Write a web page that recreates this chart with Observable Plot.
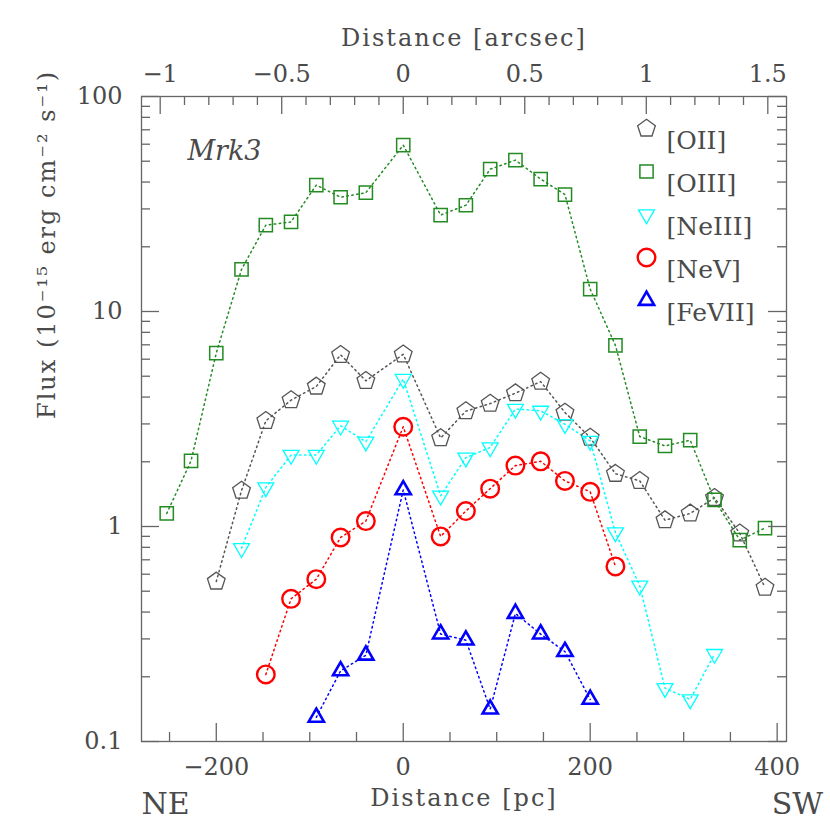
<!DOCTYPE html>
<html>
<head>
<meta charset="utf-8">
<script src="https://cdn.jsdelivr.net/npm/d3@7"></script>
<script src="https://cdn.jsdelivr.net/npm/@observablehq/plot@0.6"></script>
<style>
  body { margin: 0; background: #fff; }
  #chart { width: 830px; height: 830px; }
</style>
</head>
<body>
<div id="chart"></div>
<script>
// ---- data (distance in pc, flux in 1e-15 erg cm^-2 s^-1) ----
const distOII   = [-200, -173, -147, -120, -93, -67, -40, 0, 40, 67, 93, 120, 147, 173, 200, 227, 253, 280, 307, 333, 360, 387];
const fluxOII   = [0.555, 1.47, 3.10, 3.87, 4.48, 6.29, 4.76, 6.32, 2.58, 3.44, 3.73, 4.17, 4.72, 3.39, 2.59, 1.76, 1.63, 1.07, 1.15, 1.36, 0.93, 0.52];

const distOIII  = [-253, -227, -200, -173, -147, -120, -93, -67, -40, 0, 40, 67, 93, 120, 147, 173, 200, 227, 253, 280, 307, 333, 360, 387];
const fluxOIII  = [1.15, 2.02, 6.41, 15.7, 25.2, 26.1, 38.7, 34.0, 35.7, 59.4, 28.1, 31.2, 45.9, 50.6, 41.3, 35.0, 12.7, 6.96, 2.62, 2.37, 2.52, 1.33, 0.865, 0.983];

const distNeIII = [-173, -147, -120, -93, -67, -40, 0, 40, 67, 93, 120, 147, 173, 200, 227, 253, 280, 307, 333];
const fluxNeIII = [0.792, 1.52, 2.15, 2.15, 2.94, 2.48, 4.85, 1.39, 2.09, 2.33, 3.52, 3.45, 2.99, 2.50, 0.938, 0.530, 0.177, 0.157, 0.255];

const distNeV   = [-147, -120, -93, -67, -40, 0, 40, 67, 93, 120, 147, 173, 200, 227];
const fluxNeV   = [0.205, 0.461, 0.569, 0.889, 1.06, 2.91, 0.899, 1.18, 1.50, 1.92, 2.01, 1.63, 1.45, 0.652];

const distFeVII = [-93, -67, -40, 0, 40, 67, 93, 120, 147, 173, 200];
const fluxFeVII = [0.1296, 0.213, 0.252, 1.48, 0.316, 0.296, 0.1415, 0.394, 0.316, 0.262, 0.157];

const seriesNames = ["[OII]", "[OIII]", "[NeIII]", "[NeV]", "[FeVII]"];

// ---- axis ticks ----
const xMajor = [-200, 0, 200, 400];
const xMinor = [-250, -150, -100, -50, 50, 100, 150, 250, 300, 350];
const arcMajor = [-1, -0.5, 0, 0.5, 1, 1.5];
const arcMinor = [-0.9, -0.8, -0.7, -0.6, -0.4, -0.3, -0.2, -0.1, 0.1, 0.2, 0.3, 0.4, 0.6, 0.7, 0.8, 0.9, 1.1, 1.2, 1.3, 1.4];
const PC_PER_ARCSEC = 260;
const yMajor = [0.1, 1, 10, 100];
const yMinor = [0.2,0.3,0.4,0.5,0.6,0.7,0.8,0.9, 2,3,4,5,6,7,8,9, 20,30,40,50,60,70,80,90];

// ---- custom symbols ----
function polySymbol(angles) {
  return {
    draw(ctx, size) {
      const R = Math.sqrt(size / Math.PI);
      angles.forEach((a, k) => {
        const px = R * Math.cos(a), py = R * Math.sin(a);
        if (k) ctx.lineTo(px, py); else ctx.moveTo(px, py);
      });
      ctx.closePath();
    }
  };
}
const deg = Math.PI / 180;
const pentagon = polySymbol([-90, -18, 54, 126, 198].map(a => a * deg));
const triDown  = polySymbol([90, 210, 330].map(a => a * deg));
const triUp    = polySymbol([-90, 30, 150].map(a => a * deg));
const square   = {
  draw(ctx, size) {
    const h = Math.sqrt(size / Math.PI);
    ctx.moveTo(-h, -h); ctx.lineTo(h, -h); ctx.lineTo(h, h); ctx.lineTo(-h, h); ctx.closePath();
  }
};

const series = [
  {name: seriesNames[0], dist: distOII,   flux: fluxOII,   color: "#555555", symbol: pentagon, r: 9.3, sw: 1.3},
  {name: seriesNames[1], dist: distOIII,  flux: fluxOIII,  color: "#228b22", symbol: square,   r: 6.6, sw: 1.5},
  {name: seriesNames[2], dist: distNeIII, flux: fluxNeIII, color: "#00ffff", symbol: triDown,  r: 9.2, sw: 1.3},
  {name: seriesNames[3], dist: distNeV,   flux: fluxNeV,   color: "#ff0000", symbol: "circle", r: 8.8, sw: 2.4},
  {name: seriesNames[4], dist: distFeVII, flux: fluxFeVII, color: "#0000ff", symbol: triUp,    r: 8.8, sw: 2.6}
];

const frameColor = "#666";
const textColor = "#4a4a4a";
const fmtNum = d => (d < 0 ? "\u2212" + Math.abs(d) : String(d));

const marks = [];

// data lines and markers
for (const s of series) {
  const pts = s.dist.map((d, i) => ({d, f: s.flux[i]}));
  marks.push(Plot.line(pts, {x: "d", y: "f", stroke: s.color, strokeWidth: 1.5, strokeDasharray: "1.5,3.5"}));
}
for (const s of series) {
  const pts = s.dist.map((d, i) => ({d, f: s.flux[i]}));
  marks.push(Plot.dot(pts, {x: "d", y: "f", symbol: s.symbol, r: s.r, stroke: s.color, strokeWidth: s.sw, fill: "none"}));
}

// frame and inward ticks
const W = 645, H = 645;
marks.push(
  Plot.frame({stroke: frameColor, strokeWidth: 1.3}),
  Plot.tickX(xMajor, {x: d => d, insetTop: H - 18, stroke: frameColor, strokeWidth: 1.3}),
  Plot.tickX(xMinor, {x: d => d, insetTop: H - 9, stroke: frameColor, strokeWidth: 1.3}),
  Plot.tickX(arcMajor, {x: d => d * PC_PER_ARCSEC, insetBottom: H - 18, stroke: frameColor, strokeWidth: 1.3}),
  Plot.tickX(arcMinor, {x: d => d * PC_PER_ARCSEC, insetBottom: H - 9, stroke: frameColor, strokeWidth: 1.3}),
  Plot.tickY(yMajor, {y: d => d, insetRight: W - 18, stroke: frameColor, strokeWidth: 1.3}),
  Plot.tickY(yMinor, {y: d => d, insetRight: W - 9, stroke: frameColor, strokeWidth: 1.3}),
  Plot.tickY(yMajor, {y: d => d, insetLeft: W - 18, stroke: frameColor, strokeWidth: 1.3}),
  Plot.tickY(yMinor, {y: d => d, insetLeft: W - 9, stroke: frameColor, strokeWidth: 1.3})
);

// tick labels
marks.push(
  Plot.axisX({anchor: "bottom", ticks: xMajor, tickSize: 0, tickPadding: 16, tickFormat: fmtNum, label: null, fontSize: 24, fill: textColor}),
  Plot.axisX({anchor: "top", ticks: arcMajor.map(a => a * PC_PER_ARCSEC), tickSize: 0, tickPadding: 15,
              tickFormat: d => fmtNum(Math.round(d / PC_PER_ARCSEC * 10) / 10), label: null, fontSize: 24, fill: textColor}),
  Plot.axisY({anchor: "left", ticks: yMajor, tickSize: 0, tickPadding: 19, tickFormat: d => String(d), label: null, fontSize: 24, fill: textColor})
);

// axis titles and annotations
marks.push(
  Plot.text(["Distance [pc]"], {text: d => d, frameAnchor: "bottom", dy: 64, fontSize: 24, fill: textColor}),
  Plot.text(["Distance [arcsec]"], {text: d => d, frameAnchor: "top", dy: -68, fontSize: 24, fill: textColor}),
  Plot.text(["Flux (10\u207B\u00B9\u2075 erg cm\u207B\u00B2 s\u207B\u00B9)"], {text: d => d, frameAnchor: "left", dx: -94, rotate: -90, fontSize: 24, fill: textColor}),
  Plot.text(["NE"], {text: d => d, frameAnchor: "bottom-left", textAnchor: "middle", dx: 24, dy: 72, fontSize: 30, fill: textColor}),
  Plot.text(["SW"], {text: d => d, frameAnchor: "bottom-right", textAnchor: "middle", dx: 11, dy: 72, fontSize: 30, fill: textColor}),
  Plot.text(["Mrk3"], {text: d => d, frameAnchor: "top-left", textAnchor: "middle", dx: 83, dy: 44, fontSize: 27, fontStyle: "italic", fill: textColor})
);

// legend
series.forEach((s, i) => {
  marks.push(
    Plot.dot([s.name], {frameAnchor: "top-left", dx: 505, dy: 32 + 43 * i, symbol: s.symbol, r: s.r, stroke: s.color, strokeWidth: s.sw, fill: "none"}),
    Plot.text([s.name], {text: d => d, frameAnchor: "top-left", dx: 525, dy: 35 + 43 * i, textAnchor: "start", fontSize: 25, fill: textColor})
  );
});

const chart = Plot.plot({
  width: 830,
  height: 830,
  marginLeft: 141,
  marginRight: 44,
  marginTop: 96,
  marginBottom: 89,
  style: {fontFamily: "'DejaVu Serif', serif", fontSize: "24px", color: textColor, background: "#fff"},
  x: {domain: [-280, 410], axis: null},
  y: {type: "log", domain: [0.1, 100], axis: null},
  marks
});
document.getElementById("chart").appendChild(chart);

// letter-spacing for wide titles
chart.querySelectorAll("text").forEach(t => {
  const s = t.textContent;
  if (s.startsWith("Distance") || s.startsWith("Flux")) t.style.letterSpacing = "2px";
});
</script>
</body>
</html>
